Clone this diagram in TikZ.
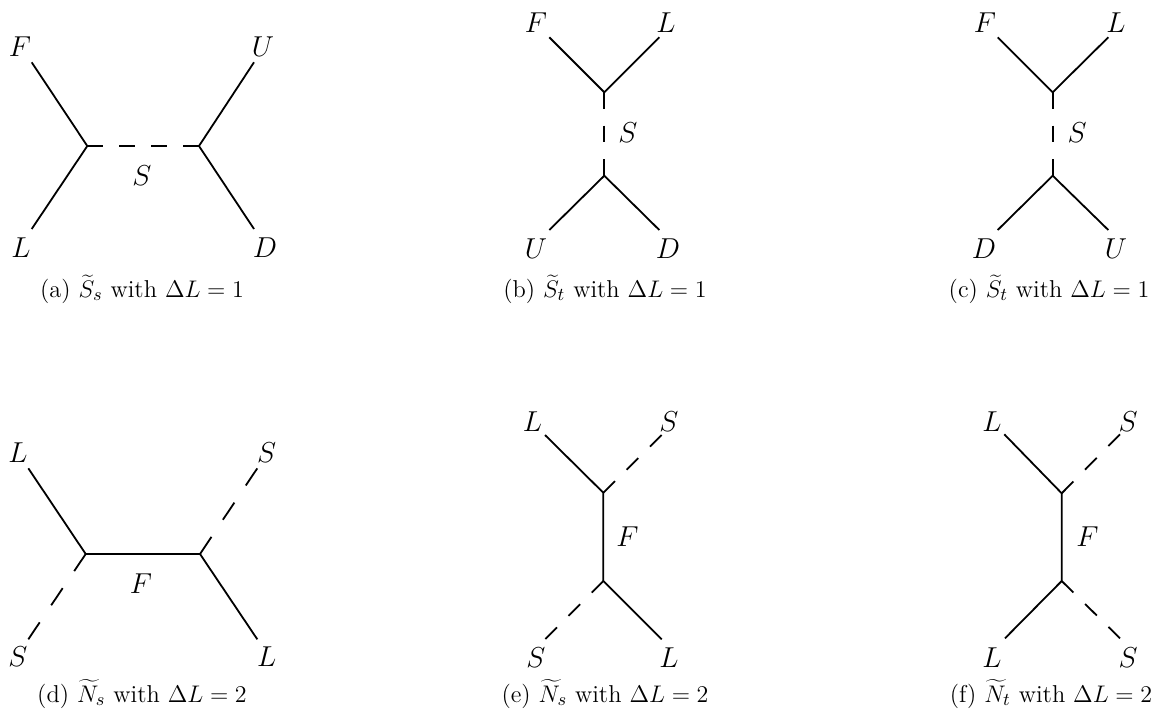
\documentclass[tikz,border=0pt]{standalone}
\begin{document}
\begin{tikzpicture}[x=0.5pt,y=-0.5pt,
  prop/.style={line width=0.9pt},
  sprop/.style={line width=0.9pt, dash pattern=on #1 off #1},
  lab/.style={font=\Large, inner sep=0pt},
  captext/.style={anchor=base, inner sep=0pt, font=\fontsize{12.2}{14}\selectfont}]
\useasboundingbox (0,0) rectangle (1172,717);

% ---------- (a)
\coordinate (a1) at (87.3,146);
\coordinate (a2) at (199,146);
\coordinate (aF) at (31.7,62.3);
\coordinate (aL) at (31.7,229);
\coordinate (aU) at (254,62.3);
\coordinate (aD) at (254,229);
\draw[prop] (aF) -- (a1) -- (aL);
\draw[prop] (aU) -- (a2) -- (aD);
\draw[sprop=8pt] (a1) -- (a2);
\node[lab] (laF) at (20,46.5) {$F$};
\node[lab] (laU) at (263,46.5) {$U$};
\node[lab] (laL) at (21,248) {$L$};
\node[lab] (laD) at (265,248) {$D$};
\node[lab] (laS) at (142,176) {$S$};
\node[captext] (capa) at (142,297) {(a) $\widetilde{S}_s$ with $\Delta L = 1$};

% ---------- (b)
\coordinate (b1) at (604.3,92.3);
\coordinate (b2) at (604.3,175.7);
\coordinate (bF) at (549.3,37.3);
\coordinate (bL) at (659.3,37.3);
\coordinate (bU) at (549.3,230);
\coordinate (bD) at (659.3,230);
\draw[prop] (bF) -- (b1) -- (bL);
\draw[prop] (bU) -- (b2) -- (bD);
\draw[sprop=8.34pt] (b1) -- (b2);
\node[lab] (lbF) at (536,22.5) {$F$};
\node[lab] (lbL) at (666,22.5) {$L$};
\node[lab] (lbU) at (536,249) {$U$};
\node[lab] (lbD) at (668,249) {$D$};
\node[lab] (lbS) at (628,133) {$S$};
\node[captext] (capb) at (605,297) {(b) $\widetilde{S}_t$ with $\Delta L = 1$};

% ---------- (c)
\coordinate (c1) at (1052.7,92.3);
\coordinate (c2) at (1052.7,175.7);
\coordinate (cF) at (997.7,37.3);
\coordinate (cL) at (1108.3,37.3);
\coordinate (cD) at (997.7,230);
\coordinate (cU) at (1108.3,230);
\draw[prop] (cF) -- (c1) -- (cL);
\draw[prop] (cD) -- (c2) -- (cU);
\draw[sprop=8.34pt] (c1) -- (c2);
\node[lab] (lcF) at (985,22.5) {$F$};
\node[lab] (lcL) at (1116,22.5) {$L$};
\node[lab] (lcD) at (984,249) {$D$};
\node[lab] (lcU) at (1116,249) {$U$};
\node[lab] (lcS) at (1077,133) {$S$};
\node[captext] (capc) at (1049,297) {(c) $\widetilde{S}_t$ with $\Delta L = 1$};

% ---------- (d)
\coordinate (d1) at (85.7,554);
\coordinate (d2) at (200,554);
\coordinate (dL1) at (28.3,468.3);
\coordinate (dS1) at (28.3,639.3);
\coordinate (dS2) at (257.3,468.3);
\coordinate (dL2) at (257.3,639.3);
\draw[prop] (dL1) -- (d1) -- (d2) -- (dL2);
\draw[sprop=10.3pt] (d1) -- (dS1);
\draw[sprop=10.3pt] (d2) -- (dS2);
\node[lab] (ldL1) at (18,452.5) {$L$};
\node[lab] (ldS2) at (266.7,452.5) {$S$};
\node[lab] (ldS1) at (18,656.7) {$S$};
\node[lab] (ldL2) at (266.7,656.7) {$L$};
\node[lab] (ldF) at (141,584) {$F$};
\node[captext] (capd) at (142,702) {(d) $\widetilde{N}_s$ with $\Delta L = 2$};

% ---------- (e)
\coordinate (e1) at (603.3,492.7);
\coordinate (e2) at (603.3,581);
\coordinate (eL1) at (545,435);
\coordinate (eS1) at (661.7,435);
\coordinate (eS2) at (545,639.3);
\coordinate (eL2) at (661.7,639.3);
\draw[prop] (eL1) -- (e1) -- (e2) -- (eL2);
\draw[sprop=8.2pt] (e1) -- (eS1);
\draw[sprop=8.2pt] (e2) -- (eS2);
\node[lab] (leL1) at (532.5,421.7) {$L$};
\node[lab] (leS1) at (669,421.7) {$S$};
\node[lab] (leF) at (627.5,536.7) {$F$};
\node[lab] (leS2) at (536,658) {$S$};
\node[lab] (leL2) at (669,658) {$L$};
\node[captext] (cape) at (605,702) {(e) $\widetilde{N}_s$ with $\Delta L = 2$};

% ---------- (f)
\coordinate (f1) at (1061.7,493.3);
\coordinate (f2) at (1061.7,581);
\coordinate (fL1) at (1004.3,434.3);
\coordinate (fS1) at (1120,434.3);
\coordinate (fL2) at (1005,638.3);
\coordinate (fS2) at (1120,638.3);
\draw[prop] (fL1) -- (f1) -- (f2) -- (fL2);
\draw[sprop=8.3pt] (f1) -- (fS1);
\draw[sprop=8.2pt] (f2) -- (fS2);
\node[lab] (lfL1) at (992,421.7) {$L$};
\node[lab] (lfS1) at (1128,421.7) {$S$};
\node[lab] (lfF) at (1087.5,536.7) {$F$};
\node[lab] (lfL2) at (992,658) {$L$};
\node[lab] (lfS2) at (1128,658) {$S$};
\node[captext] (capf) at (1051,702) {(f) $\widetilde{N}_t$ with $\Delta L = 2$};
\end{tikzpicture}
\end{document}
